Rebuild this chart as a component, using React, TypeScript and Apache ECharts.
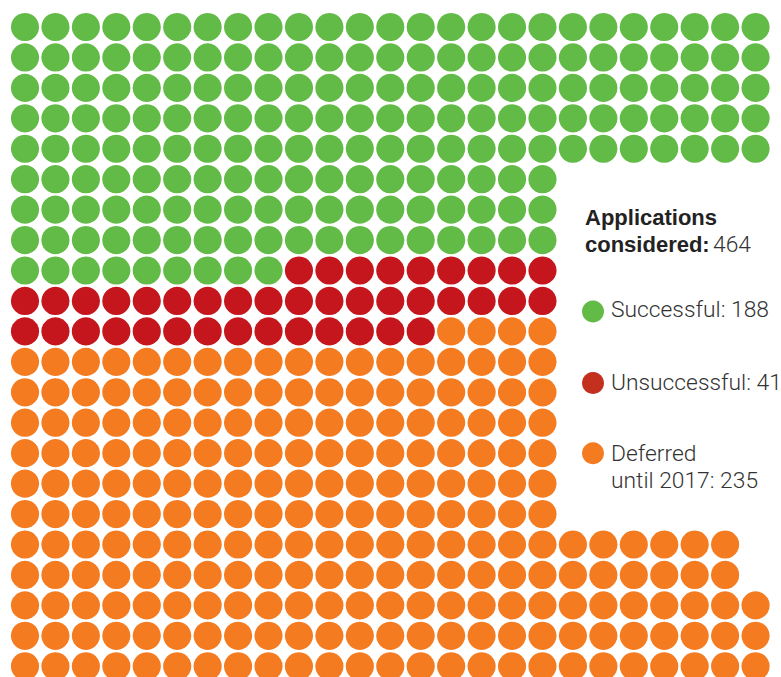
import React, { useEffect, useRef } from "react";
import * as echarts from "echarts";

const categories = ["Successful", "Unsuccessful", "Deferred until 2017"];
const counts = [188, 41, 235];
const totalConsidered = 464;
// number of dots in each row of the waffle, top to bottom
const rowLengths = [25, 25, 25, 25, 25, 18, 18, 18, 18, 18, 18, 18, 18, 18, 18, 18, 18, 24, 24, 25, 25, 25];
const dotColors = ["#62BB46", "#C4161C", "#F47B20"];
const legendColors = ["#62BB46", "#C3301E", "#F47B20"];

function buildSeriesData(): number[][][] {
  const cells: number[][] = [];
  rowLengths.forEach((len, r) => {
    for (let c = 0; c < len; c++) cells.push([c, r]);
  });
  const out: number[][][] = [];
  let idx = 0;
  counts.forEach((n) => {
    out.push(cells.slice(idx, idx + n));
    idx += n;
  });
  return out;
}

export default function App() {
  const ref = useRef<HTMLDivElement>(null);
  useEffect(() => {
    document.body.style.margin = "0";
    const chart = echarts.init(ref.current!, null, { renderer: "svg" });
    const W = 781;
    const H = 677;
    const step = 30.44;
    const x0 = 25;
    const y0 = 27;
    const data = buildSeriesData();
    const lightFont = "Roboto, 'Liberation Sans', sans-serif";
    const boldFont = "'Liberation Sans', Arial, sans-serif";
    const textX = 611;
    const markerX = 593;
    const legendRows = [
      { lines: [`${categories[0]}: ${counts[0]}`], ys: [309], my: 311.5 },
      { lines: [`${categories[1]}: ${counts[1]}`], ys: [382.5], my: 383 },
      { lines: ["Deferred", `until 2017: ${counts[2]}`], ys: [453.3, 480], my: 453.3 },
    ];
    const graphic: any[] = [
      {
        type: "text",
        x: 585,
        y: 217.6,
        style: { text: "Applications", font: `bold 22px ${boldFont}`, fill: "#222", verticalAlign: "middle", align: "left" },
      },
      {
        type: "text",
        x: 585,
        y: 244.6,
        style: {
          text: "{b|considered:} {n|" + totalConsidered + "}",
          verticalAlign: "middle",
          align: "left",
          rich: {
            b: { fontFamily: boldFont, fontWeight: "bold", fontSize: 22, fill: "#222" },
            n: { fontFamily: lightFont, fontWeight: 300, fontSize: 22.8, fill: "#333" },
          },
        },
      },
    ];
    legendRows.forEach((row, i) => {
      graphic.push({
        type: "circle",
        shape: { cx: markerX, cy: row.my, r: 11 },
        style: { fill: legendColors[i] },
      });
      row.lines.forEach((line, j) => {
        graphic.push({
          type: "text",
          x: textX,
          y: row.ys[j],
          style: { text: line, font: `300 22.8px ${lightFont}`, fill: "#333", verticalAlign: "middle", align: "left" },
        });
      });
    });
    chart.setOption({
      animation: false,
      grid: { left: 0, right: 0, top: 0, bottom: 0 },
      xAxis: { type: "value", min: -x0 / step, max: (W - x0) / step, show: false },
      yAxis: { type: "value", inverse: true, min: -y0 / step, max: (H - y0) / step, show: false },
      series: data.map((d, i) => ({
        type: "scatter",
        name: categories[i],
        data: d,
        symbol: "circle",
        symbolSize: 28.2,
        itemStyle: { color: dotColors[i], opacity: 1 },
        emphasis: { disabled: true },
        silent: true,
      })),
      graphic,
    });
    return () => chart.dispose();
  }, []);
  return <div ref={ref} style={{ width: 781, height: 677, position: "absolute", left: 0, top: 0 }} />;
}
